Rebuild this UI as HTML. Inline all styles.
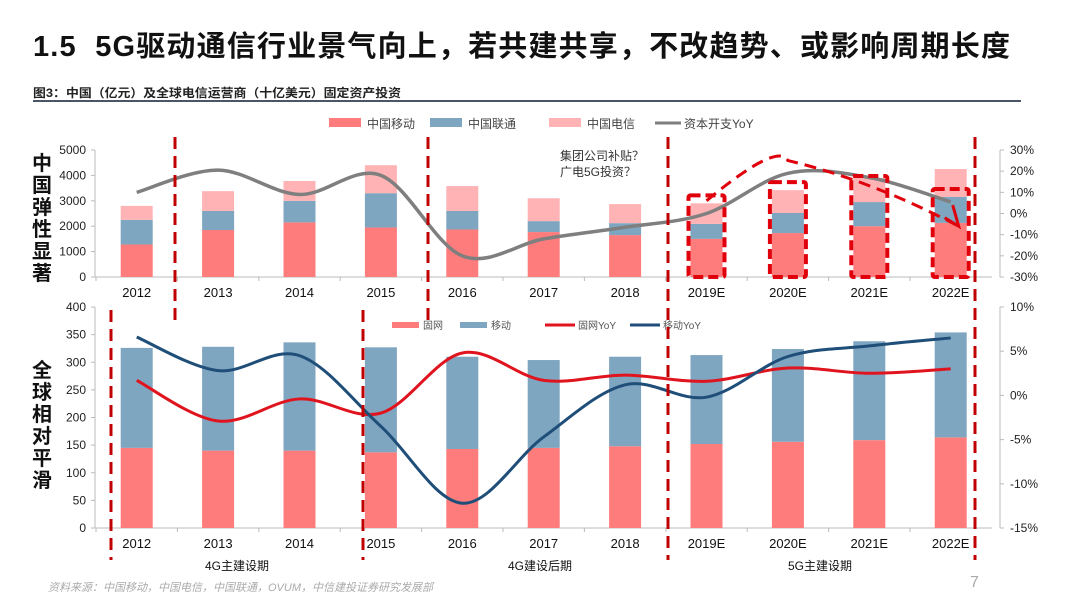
<!DOCTYPE html>
<html><head><meta charset="utf-8">
<style>
body{margin:0;background:#fff;width:1080px;height:607px;overflow:hidden;font-family:"Liberation Sans","Noto Sans CJK SC",sans-serif;}
svg text{font-family:"Liberation Sans","Noto Sans CJK SC",sans-serif;}
</style></head>
<body>
<svg id="s" width="1080" height="607" xmlns="http://www.w3.org/2000/svg">
<text x="33" y="56" font-size="29" font-weight="bold" fill="#111" textLength="977" lengthAdjust="spacing" style="white-space:pre">1.5  5G驱动通信行业景气向上，若共建共享，不改趋势、或影响周期长度</text>
<text x="33" y="97" font-size="12" font-weight="bold" fill="#222" textLength="368" lengthAdjust="spacingAndGlyphs">图3：中国（亿元）及全球电信运营商（十亿美元）固定资产投资</text>
<rect x="33" y="100" width="988" height="2" fill="#4a5568"/>
<g font-size="20" font-weight="bold" fill="#111">
<text x="32" y="170">中</text><text x="32" y="192">国</text><text x="32" y="214">弹</text><text x="32" y="236">性</text><text x="32" y="258">显</text><text x="32" y="280">著</text></g>
<g font-size="20" font-weight="bold" fill="#111">
<text x="32" y="377">全</text><text x="32" y="399">球</text><text x="32" y="421">相</text><text x="32" y="443">对</text><text x="32" y="465">平</text><text x="32" y="487">滑</text></g>
<g id="top"></g><g id="bot"></g>
<text x="560" y="160" font-size="12" fill="#333">集团公司补贴？</text>
<text x="560" y="176" font-size="12" fill="#333">广电5G投资？</text>
<text x="237" y="570" font-size="12" fill="#111" text-anchor="middle">4G主建设期</text>
<text x="540" y="570" font-size="12" fill="#111" text-anchor="middle">4G建设后期</text>
<text x="820" y="570" font-size="12" fill="#111" text-anchor="middle">5G主建设期</text>
<text x="48" y="591" font-size="11" font-style="italic" fill="#aaa">资料来源：中国移动，中国电信，中国联通，OVUM，中信建投证券研究发展部</text>
<text x="970" y="587" font-size="16" fill="#aaa">7</text>
</svg>
<script>
const categories=["2012","2013","2014","2015","2016","2017","2018","2019E","2020E","2021E","2022E"];
const cmMobile=[1280,1850,2150,1950,1870,1770,1650,1500,1730,2000,2130];
const cmUnicom=[970,750,850,1350,730,430,470,590,790,950,1020];
const cmTelecom=[550,780,780,1100,980,900,750,810,900,950,1100];
const capexYoY=[10,20.5,9,18,-20,-12,-6.5,0,19,17,5.5];
const topTicksL=[0,1000,2000,3000,4000,5000];
const topTicksR=[-30,-20,-10,0,10,20,30];
const fixedNet=[145,140,140,137,143,145,148,152,156,159,164];
const mobileNet=[181,188,196,190,167,159,162,161,168,179,190];
const fixedYoY=[1.7,-2.9,-0.4,-2,4.8,1.7,2.3,1.6,3.1,2.5,3.0];
const mobileYoY=[6.6,2.8,4.5,-3.5,-12.2,-4.7,1.2,-0.2,4.4,5.6,6.5];
const botTicksL=[0,50,100,150,200,250,300,350,400];
const botTicksR=[-15,-10,-5,0,5,10];

const NS="http://www.w3.org/2000/svg";
function mk(p,t,a){const e=document.createElementNS(NS,t);for(const k in a)e.setAttribute(k,a[k]);p.appendChild(e);return e;}
const x0=96,step=81.4,bw=32;
const xc=i=>x0+step*(i+0.5);
function smooth(pts){let d="M"+pts[0][0]+","+pts[0][1];for(let i=0;i<pts.length-1;i++){const p0=pts[i-1]||pts[i],p1=pts[i],p2=pts[i+1],p3=pts[i+2]||p2;d+=` C${p1[0]+(p2[0]-p0[0])/6},${p1[1]+(p2[1]-p0[1])/6} ${p2[0]-(p3[0]-p1[0])/6},${p2[1]-(p3[1]-p1[1])/6} ${p2[0]},${p2[1]}`;}return d;}
function axes(g,yL,yR,ticksL,ticksR,fmtR,yb,ytop){
 mk(g,"line",{x1:95,y1:ytop,x2:95,y2:yb,stroke:"#bbb"});
 mk(g,"line",{x1:95,y1:yb,x2:992,y2:yb,stroke:"#bbb"});
 mk(g,"line",{x1:1000,y1:ytop,x2:1000,y2:yb,stroke:"#bbb"});
 ticksL.forEach(v=>{const t=mk(g,"text",{x:86,y:yL(v)+4,"font-size":12,"text-anchor":"end",fill:"#222"});t.textContent=v;
  
  
  mk(g,"line",{x1:91,y1:yL(v),x2:95,y2:yL(v),stroke:"#bbb"});});
 ticksR.forEach(v=>{const t=mk(g,"text",{x:1010,y:yR(v)+4,"font-size":12,fill:"#222"});t.textContent=v+"%";
  
  
  mk(g,"line",{x1:1000,y1:yR(v),x2:1004,y2:yR(v),stroke:"#bbb"});});
 categories.forEach((c,i)=>{const t=mk(g,"text",{x:xc(i),y:yb+20,"font-size":13,"text-anchor":"middle",fill:"#111"});t.textContent=c;
  
  
  mk(g,"line",{x1:x0+step*i,y1:yb,x2:x0+step*i,y2:yb+4,stroke:"#bbb"});});
}
// TOP
const T=document.getElementById("top");
const tyL=v=>277-v*127/5000, tyR=v=>213.5-v*127/60;
axes(T,tyL,tyR,topTicksL,topTicksR,null,277,150);
categories.forEach((c,i)=>{
 let b=0;[[cmMobile,"#ff7c7c","bar-china-mobile"],[cmUnicom,"#7fa6c0","bar-china-unicom"],[cmTelecom,"#ffb3b5","bar-china-telecom"]].forEach(([arr,col,n])=>{
  const r=mk(T,"rect",{x:xc(i)-bw/2,y:tyL(b+arr[i]),width:bw,height:tyL(b)-tyL(b+arr[i]),fill:col});
  
  
  b+=arr[i];});
});
const cap=mk(T,"path",{d:smooth(capexYoY.map((v,i)=>[xc(i),tyR(v)])),fill:"none",stroke:"#7f7f7f","stroke-width":3.5});


[7,8,9,10].forEach(i=>{const tot=cmMobile[i]+cmUnicom[i]+cmTelecom[i];const top=i==9?tyL(tot)-2:(i==10?tyL(cmMobile[i]+cmUnicom[i])-8:tyL(tot)-8);
 const r=mk(T,"rect",{x:xc(i)-bw/2-2,y:top,width:bw+4,height:277-top,fill:"none",stroke:"#e0000b","stroke-width":4,"stroke-dasharray":"10,5",rx:2});
 
 });
const tr=mk(T,"path",{d:`M${xc(7)},${tyR(6)} Q${xc(8)-10},${tyR(34)} ${xc(8)},${tyR(25)} Q${xc(9)},${tyR(16)} ${xc(10)+8},${tyR(-6)}`,fill:"none",stroke:"#e0000b","stroke-width":3,"stroke-dasharray":"12,7"});


mk(T,"path",{d:`M${xc(10)-6},${tyR(-2)} L${xc(10)+8},${tyR(-6)} L${xc(10)+2},${tyR(4)}`,fill:"none",stroke:"#e0000b","stroke-width":3});
[[329,"#ff7c7c","中国移动"],[430,"#7fa6c0","中国联通"],[549,"#ffb3b5","中国电信"]].forEach(([x,c,t])=>{
 const r=mk(T,"rect",{x:x,y:118,width:32,height:9,fill:c});
 
 
 const tx=mk(T,"text",{x:x+38,y:128,"font-size":12,fill:"#444"});tx.textContent=t;
 
 });
mk(T,"line",{x1:655,y1:123,x2:681,y2:123,stroke:"#7f7f7f","stroke-width":3});
const lt=mk(T,"text",{x:684,y:128,"font-size":12,fill:"#444"});lt.textContent="资本开支YoY";


// BOTTOM
const B=document.getElementById("bot");
const byL=v=>528-v*221/400, byR=v=>395.4-v*221/25;
axes(B,byL,byR,botTicksL,botTicksR,null,528,307);
categories.forEach((c,i)=>{
 const r1=mk(B,"rect",{x:xc(i)-bw/2,y:byL(fixedNet[i]),width:bw,height:528-byL(fixedNet[i]),fill:"#ff7c7c"});
 
 
 const r2=mk(B,"rect",{x:xc(i)-bw/2,y:byL(fixedNet[i]+mobileNet[i]),width:bw,height:byL(fixedNet[i])-byL(fixedNet[i]+mobileNet[i]),fill:"#7fa6c0"});
 
 
});
const fl=mk(B,"path",{d:smooth(fixedYoY.map((v,i)=>[xc(i),byR(v)])),fill:"none",stroke:"#e0141e","stroke-width":3});


const ml=mk(B,"path",{d:smooth(mobileYoY.map((v,i)=>[xc(i),byR(v)])),fill:"none",stroke:"#1f4e79","stroke-width":3});


[[392,"#ff7c7c","固网"],[460,"#7fa6c0","移动"]].forEach(([x,c,t])=>{
 const r=mk(B,"rect",{x:x,y:322,width:27,height:6,fill:c});
 
 
 const tx=mk(B,"text",{x:x+31,y:329,"font-size":10,fill:"#555"});tx.textContent=t;
 
 });
[[545,"#e0141e","固网YoY"],[630,"#1f4e79","移动YoY"]].forEach(([x,c,t])=>{
 mk(B,"line",{x1:x,y1:325,x2:x+30,y2:325,stroke:c,"stroke-width":3});
 const tx=mk(B,"text",{x:x+33,y:329,"font-size":10,fill:"#555"});tx.textContent=t;
 
 });
const S=document.getElementById("s");
[[175,137,323],[428,137,323],[111,310,560],[363,310,560],[668,137,560],[975,137,560]].forEach(([x,a,b])=>{
 const l=mk(S,"line",{x1:x,y1:a,x2:x,y2:b,stroke:"#c00000","stroke-width":3,"stroke-dasharray":"12,7"});
 
 });
</script>
</body></html>
